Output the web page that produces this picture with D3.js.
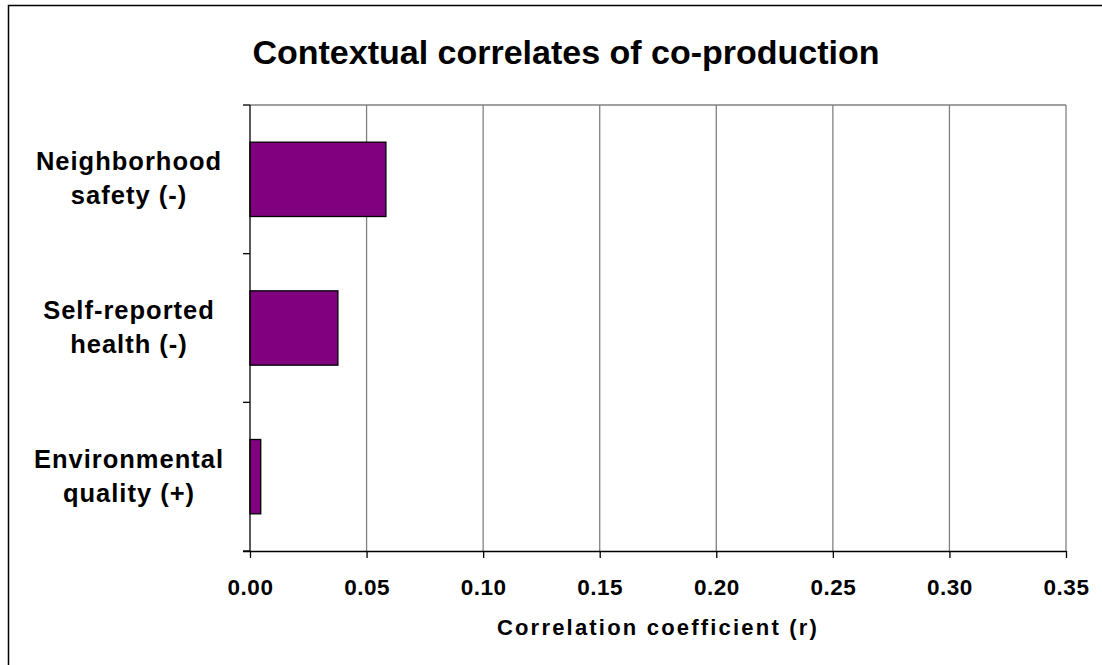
<!DOCTYPE html>
<html>
<head>
<meta charset="utf-8">
<script src="https://cdn.jsdelivr.net/npm/d3@7"></script>
<style>
  body { margin: 0; background: #fff; }
  text { font-family: Arial, "Liberation Sans", sans-serif; font-weight: bold; fill: #000; }
</style>
</head>
<body>
<div id="chart"></div>
<script>
const categories = [["Neighborhood", "safety (-)"], ["Self-reported", "health (-)"], ["Environmental", "quality (+)"]];
const values = [0.0583, 0.0377, 0.0046];
const xTicks = [0, 0.05, 0.10, 0.15, 0.20, 0.25, 0.30, 0.35];

const width = 1102;
const height = 665;
const margin = { top: 105, right: 36, bottom: 114, left: 250 };

const svg = d3.select("#chart").append("svg")
    .attr("width", width)
    .attr("height", height);

// outer chart border (runs off right and bottom)
svg.append("rect")
    .attr("x", 8.5).attr("y", 5.5)
    .attr("width", width + 20).attr("height", height + 20)
    .attr("fill", "none").attr("stroke", "#000").attr("stroke-width", 1.5);

const xScale = d3.scaleLinear()
    .domain([0, 0.35])
    .range([margin.left, width - margin.right]);

const yScale = d3.scaleBand()
    .domain(d3.range(categories.length))
    .range([margin.top, height - margin.bottom])
    .paddingInner(0.5)
    .paddingOuter(0.25);

const plotTop = margin.top, plotBottom = height - margin.bottom;

// gridlines
svg.append("g")
    .selectAll("line")
    .data(xTicks.slice(1))
    .enter().append("line")
    .attr("x1", d => xScale(d)).attr("x2", d => xScale(d))
    .attr("y1", plotTop).attr("y2", plotBottom)
    .attr("stroke", "#808080").attr("stroke-width", 1.3);

// top of plot area
svg.append("line")
    .attr("x1", xScale(0)).attr("x2", xScale(0.35))
    .attr("y1", plotTop).attr("y2", plotTop)
    .attr("stroke", "#808080").attr("stroke-width", 1.3);

// bars
svg.append("g")
    .selectAll("rect")
    .data(values)
    .enter().append("rect")
    .attr("x", xScale(0))
    .attr("y", (d, i) => yScale(i))
    .attr("width", d => xScale(d) - xScale(0))
    .attr("height", yScale.bandwidth())
    .attr("fill", "#800080")
    .attr("stroke", "#000")
    .attr("stroke-width", 1.3);

// x axis
const xAxis = d3.axisBottom(xScale)
    .tickValues(xTicks)
    .tickFormat(d3.format(".2f"))
    .tickSize(7)
    .tickPadding(21);

const gx = svg.append("g")
    .attr("transform", `translate(0,${plotBottom})`)
    .call(xAxis);
gx.select(".domain").attr("d", `M${xScale(0) - 7},0.5H${xScale(0.35)}`).attr("stroke", "#000").attr("stroke-width", 1.3);
gx.selectAll(".tick line").attr("stroke", "#000").attr("stroke-width", 1.3);
gx.selectAll(".tick text")
    .attr("font-size", 22.5)
    .attr("letter-spacing", 0.5)
    .attr("font-family", "Arial, 'Liberation Sans', sans-serif")
    .attr("font-weight", "bold");

// y axis: category boundaries as ticks
const bandStep = (plotBottom - plotTop) / categories.length;
const gy = svg.append("g");
gy.append("line")
    .attr("x1", xScale(0)).attr("x2", xScale(0))
    .attr("y1", plotTop).attr("y2", plotBottom)
    .attr("stroke", "#000").attr("stroke-width", 1.3);
gy.selectAll(".ytick")
    .data(d3.range(categories.length + 1))
    .enter().append("line")
    .attr("x1", xScale(0) - 7).attr("x2", xScale(0))
    .attr("y1", d => plotTop + d * bandStep).attr("y2", d => plotTop + d * bandStep)
    .attr("stroke", "#000").attr("stroke-width", 1.3);

gy.selectAll(".ylabel")
    .data(categories)
    .enter().append("text")
    .attr("text-anchor", "middle")
    .attr("font-size", 25.5)
    .attr("letter-spacing", 1)
    .attr("x", 129)
    .attr("y", (d, i) => yScale(i) + yScale.bandwidth() / 2 - 9)
    .selectAll("tspan")
    .data(d => d)
    .enter().append("tspan")
    .attr("x", 129)
    .attr("dy", (d, i) => i === 0 ? 0 : 34)
    .text(d => d);

// title
svg.append("text")
    .attr("x", 566).attr("y", 64)
    .attr("text-anchor", "middle")
    .attr("font-size", 34)
    .text("Contextual correlates of co-production");

// x axis title
svg.append("text")
    .attr("x", 658).attr("y", 635)
    .attr("text-anchor", "middle")
    .attr("font-size", 22)
    .attr("letter-spacing", 2.2)
    .text("Correlation coefficient (r)");
</script>
</body>
</html>
